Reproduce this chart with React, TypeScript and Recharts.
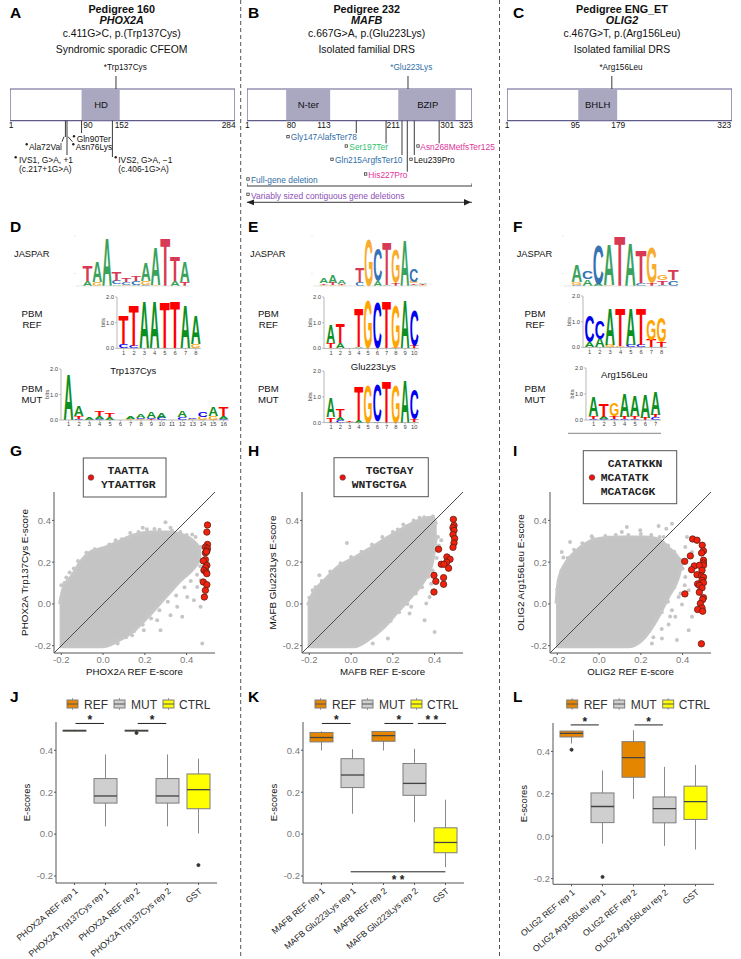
import {
  Area,
  Bar,
  BarChart,
  ComposedChart,
  Line,
  ReferenceArea,
  ReferenceDot,
  ReferenceLine,
  Scatter,
  XAxis,
  YAxis,
} from "recharts";

const FONT = "'Liberation Sans', Arial, sans-serif";
const MONO = "'Liberation Mono', monospace";

// ---- protein schematics (x = residue position as drawn on the bar)
const phox2aDomains = [{ name: "HD", start: 91, end: 139 }];
const mafbDomains = [
  { name: "N-ter", start: 57, end: 120 },
  { name: "BZIP", start: 217.5, end: 299.6 },
];
const olig2Domains = [{ name: "BHLH", start: 103, end: 158.7 }];
// [x1, depth1, x2, depth2]
const phox2aLines = [
  [70.7, 44.7, 70.7, 61],
  [72.7, 44.7, 72.7, 79],
  [91, 44.7, 91, 57],
  [129.8, 44.7, 129.8, 81],
  [134.3, 0, 134.3, 13],
  [68.9, 60.7, 66.4, 65.7],
  [74, 60.7, 79.5, 65.7],
];
const mafbLines = [
  [157.4, 44.7, 157.4, 57],
  [200, 44.7, 200, 67.3],
  [222.8, 44.7, 222.8, 79],
  [230.4, 44.7, 230.4, 95.7],
  [240.4, 44.7, 240.4, 79],
  [276, 44.7, 276, 67.3],
  [231.4, 0, 231.4, 13],
  [1, 110, 323, 110],
  [1, 107.3, 1, 110],
  [323, 107.3, 323, 110],
  [1, 126.3, 323, 126.3],
];
const olig2Lines = [[151, 0, 151, 13]];

// ---- sequence logos, each position bottom -> top [letter, bits]
type Col = [string, number][];
const logoDJaspar: Col[] = [
  [["A", 0.4], ["T", 1.25]],
  [["G", 0.35], ["A", 1.65]],
  [["A", 3.9]],
  [["A", 0.13], ["C", 0.3], ["T", 0.75]],
  [["G", 0.1], ["C", 0.2], ["T", 0.3]],
  [["A", 0.1], ["C", 0.3], ["T", 0.4]],
  [["C", 0.1], ["G", 0.3], ["A", 1.5]],
  [["G", 0.1], ["A", 3.05]],
  [["T", 3.9]],
  [["A", 0.4], ["T", 2]],
  [["T", 0.35], ["A", 1.65]],
];
const logoDRef: Col[] = [
  [["C", 0.17], ["T", 1.1]],
  [["C", 0.1], ["T", 1.6]],
  [["A", 1.85]],
  [["A", 1.85]],
  [["T", 1.8]],
  [["T", 1.82]],
  [["A", 1.68]],
  [["G", 0.17], ["A", 1.1]],
];
const logoDMut: Col[] = [
  [["A", 1.82]],
  [["C", 0.05], ["T", 0.12], ["A", 0.4]],
  [["A", 0.12]],
  [["C", 0.05], ["A", 0.1], ["T", 0.2]],
  [["A", 0.1], ["T", 0.13]],
  [],
  [["G", 0.02], ["A", 0.1]],
  [["G", 0.02], ["C", 0.05], ["A", 0.13]],
  [["T", 0.02], ["C", 0.05], ["A", 0.25]],
  [["C", 0.08], ["A", 0.18]],
  [],
  [["C", 0.1], ["A", 0.25]],
  [["G", 0.02], ["C", 0.03]],
  [["G", 0.13], ["C", 0.2]],
  [["G", 0.17], ["A", 0.35]],
  [["C", 0.03], ["A", 0.12], ["T", 0.35]],
];
const logoEJaspar: Col[] = [
  [["G", 0.1], ["T", 0.1], ["A", 0.4]],
  [["G", 0.1], ["T", 0.15], ["A", 0.6]],
  [["G", 0.08], ["T", 0.1], ["A", 0.33]],
  [["A", 0.02]],
  [["C", 0.35], ["T", 1.1]],
  [["G", 3.8]],
  [["A", 0.4], ["C", 2.6]],
  [["A", 0.05], ["T", 3.45]],
  [["T", 0.25], ["G", 2.7]],
  [["A", 3.65]],
  [["A", 0.1], ["T", 0.1], ["G", 0.15], ["C", 1.0]],
  [["G", 0.08], ["T", 0.1], ["A", 0.1]],
];
const logoERef: Col[] = [
  [["T", 0.22], ["A", 0.72]],
  [["A", 0.2], ["T", 0.77]],
  [],
  [["A", 0.05], ["T", 1.56]],
  [["G", 1.87]],
  [["C", 1.77]],
  [["T", 1.85]],
  [["T", 0.03], ["G", 1.7]],
  [["A", 1.87]],
  [["T", 0.1], ["C", 1.4]],
];
const logoEMut: Col[] = [
  [["T", 0.22], ["A", 0.74]],
  [["C", 0.1], ["A", 0.1], ["T", 0.3]],
  [["A", 0.02], ["T", 0.03]],
  [["A", 0.1], ["T", 1.32]],
  [["G", 1.5]],
  [["A", 0.05], ["C", 1.45]],
  [["T", 1.65]],
  [["G", 1.5]],
  [["A", 1.7]],
  [["G", 0.02], ["T", 0.1], ["C", 1.15]],
];
const logoFJaspar: Col[] = [
  [["C", 0.1], ["G", 0.25], ["A", 1.35]],
  [["A", 0.55], ["C", 0.6]],
  [["A", 0.15], ["C", 3.2]],
  [["G", 0.1], ["A", 3.25]],
  [["T", 3.95]],
  [["A", 3.5]],
  [["C", 0.25], ["T", 2.6]],
  [["T", 0.2], ["G", 2.8]],
  [["C", 0.1], ["T", 0.35], ["G", 0.4]],
  [["C", 0.45], ["T", 0.85]],
];
const logoFRef: Col[] = [
  [["A", 0.2], ["C", 1.03]],
  [["A", 0.33], ["C", 0.7]],
  [["G", 0.1], ["A", 1.45]],
  [["G", 0.07], ["T", 1.5]],
  [["C", 0.1], ["A", 1.43]],
  [["C", 0.1], ["T", 1.43]],
  [["T", 0.28], ["G", 0.82]],
  [["T", 0.2], ["G", 0.97]],
];
const logoFMut: Col[] = [
  [["C", 0.05], ["T", 0.1], ["A", 0.74]],
  [["C", 0.03], ["A", 0.1], ["T", 0.5]],
  [["C", 0.05], ["T", 0.1], ["G", 0.48]],
  [["C", 0.05], ["T", 0.08], ["A", 0.9]],
  [["C", 0.05], ["T", 0.1], ["A", 0.8]],
  [["T", 0.08], ["A", 0.92]],
  [["C", 0.1], ["T", 0.08], ["A", 0.9]],
];

// ---- scatter panels: [x, low, high] outline of the grey cloud
const cloudG = [
  [-0.208, -0.205, -0.0], [-0.19, -0.205, 0.08], [-0.15, -0.205, 0.135], [-0.11, -0.205, 0.2],
  [-0.06, -0.205, 0.25], [0, -0.205, 0.268], [0.067, -0.18, 0.296], [0.147, -0.13, 0.33],
  [0.227, -0.05, 0.345], [0.307, 0.04, 0.345], [0.37, 0.11, 0.335], [0.435, 0.17, 0.3], [0.47, 0.22, 0.26],
];
const cloudH = [
  [-0.208, -0.205, -0.006], [-0.184, -0.205, 0.05], [-0.128, -0.205, 0.113], [-0.064, -0.205, 0.177],
  [0.016, -0.205, 0.222], [0.08, -0.174, 0.26], [0.16, -0.11, 0.31], [0.224, -0.038, 0.348],
  [0.288, 0.033, 0.385], [0.352, 0.113, 0.41], [0.39, 0.2, 0.415], [0.41, 0.33, 0.38],
];
const cloudI = [
  [-0.206, -0.205, 0.002], [-0.195, -0.205, 0.113], [-0.163, -0.205, 0.193], [-0.115, -0.205, 0.249],
  [-0.051, -0.205, 0.297], [0, -0.205, 0.313], [0.093, -0.205, 0.32], [0.141, -0.205, 0.32],
  [0.221, -0.158, 0.32], [0.285, -0.062, 0.31], [0.333, 0.033, 0.27], [0.381, 0.129, 0.22], [0.397, 0.193, 0.193],
];
const straysG = [
  [-0.2, 0.089], [-0.176, 0.126], [-0.09, 0.188], [0.016, 0.254], [0.118, 0.313], [0.19, 0.365], [0.246, 0.359],
  [0.299, 0.391], [0.323, 0.365], [0.427, 0.333], [0.443, 0.321], [0.467, 0.273], [0.475, -0.19], [0.467, -0.014],
  [0.435, 0.018], [0.379, -0.062], [0.323, -0.054], [0.275, -0.126], [0.195, -0.126], [0.139, -0.15], [0.067, -0.166],
  [0.467, 0.113], [0.451, 0.081], [0.403, 0.033], [0.355, -0.014], [0.259, -0.078],
  [-0.2, 0.03], [-0.185, 0.1], [-0.16, 0.15], [-0.14, 0.17], [-0.12, 0.205], [-0.08, 0.245], [-0.04, 0.262], [0.03, 0.285],
  [0.06, 0.305], [0.09, 0.31], [0.13, 0.34], [0.17, 0.345], [0.21, 0.358], [0.27, 0.355], [0.33, 0.35], [0.37, 0.345],
  [0.4, 0.33], [0.445, 0.285], [0.46, 0.24], [0.465, 0.18], [0.45, 0.14], [0.42, 0.11], [0.39, 0.08], [0.35, 0.04],
  [0.31, 0.01], [0.27, -0.03], [0.23, -0.07], [0.19, -0.1], [0.15, -0.13], [0.11, -0.16], [0.07, -0.19],
];
const straysH = [
  [-0.02, 0.292], [-0.152, 0.137], [-0.184, 0.065], [0.224, 0.357], [0.328, 0.413], [0.392, 0.419], [0.4, -0.134],
  [0.352, -0.078], [0.28, -0.046], [0.288, -0.014], [0.176, -0.166], [0.104, -0.19], [0.048, -0.19], [0.24, 0.002],
  [0.376, 0.033], [0.384, 0.097], [0.368, 0.209], [0.416, 0.32], [0.432, 0.305], [0.36, 0.002],
  [-0.2, 0.03], [-0.17, 0.08], [-0.14, 0.11], [-0.1, 0.155], [-0.05, 0.195], [0, 0.225], [0.05, 0.25], [0.1, 0.285],
  [0.15, 0.32], [0.2, 0.345], [0.25, 0.38], [0.3, 0.4], [0.35, 0.415], [0.05, -0.185], [0.1, -0.155], [0.14, -0.12],
  [0.19, -0.08], [0.23, -0.04], [0.27, 0], [0.31, 0.05], [0.34, 0.08], [0.37, 0.13], [0.39, 0.16], [0.41, 0.22], [0.42, 0.28],
];
const straysI = [
  [-0.179, 0.249], [-0.171, 0.222], [-0.139, 0.297], [-0.035, 0.324], [0.109, 0.345], [0.133, 0.368], [0.197, 0.353],
  [0.285, 0.373], [0.322, 0.36], [0.349, 0.384], [0.309, 0.32], [0.421, 0.32], [0.413, 0.273], [0.445, 0.249],
  [0.365, 0.193], [0.413, 0.129], [0.429, 0.065], [0.381, 0.033], [0.397, -0.003], [0.365, -0.062], [0.445, -0.062],
  [0.373, -0.173], [0.301, -0.166], [0.253, -0.19], [0.333, -0.099], [0.429, -0.126], [0.349, -0.03],
  [-0.2, 0.07], [-0.18, 0.16], [-0.15, 0.22], [-0.12, 0.26], [-0.08, 0.29], [-0.03, 0.315], [0.03, 0.325], [0.08, 0.33],
  [0.14, 0.33], [0.2, 0.335], [0.25, 0.33], [0.29, 0.32], [0.33, 0.28], [0.36, 0.25], [0.39, 0.21], [0.16, -0.195],
  [0.2, -0.17], [0.24, -0.13], [0.27, -0.08], [0.3, -0.04], [0.33, 0.01], [0.36, 0.08], [0.38, 0.14], [0.4, 0.17],
  [0.41, 0.09], [0.39, 0.05], [0.34, -0.06], [0.3, -0.12], [0.26, -0.16],
];
const redG = [
  [0.5, 0.378], [0.497, 0.344], [0.5, 0.285], [0.49, 0.272], [0.5, 0.265], [0.497, 0.254], [0.49, 0.245], [0.495, 0.25],
  [0.49, 0.212], [0.48, 0.206], [0.497, 0.185], [0.49, 0.174], [0.483, 0.161], [0.493, 0.153], [0.497, 0.145],
  [0.48, 0.105], [0.497, 0.092], [0.49, 0.065], [0.485, 0.033],
];
const redH = [
  [0.49, 0.405], [0.493, 0.376], [0.488, 0.365], [0.493, 0.352], [0.488, 0.332], [0.496, 0.313], [0.493, 0.292],
  [0.488, 0.271], [0.419, 0.262], [0.459, 0.225], [0.474, 0.214], [0.458, 0.2], [0.432, 0.19], [0.445, 0.19],
  [0.467, 0.171], [0.397, 0.137], [0.443, 0.126], [0.406, 0.108], [0.443, 0.094], [0.397, 0.057],
];
const redI = [
  [0.448, 0.311], [0.469, 0.305], [0.494, 0.281], [0.5, 0.254], [0.491, 0.244], [0.437, 0.23], [0.41, 0.204], [0.5, 0.209],
  [0.5, 0.196], [0.5, 0.185], [0.456, 0.182], [0.48, 0.185], [0.443, 0.164], [0.493, 0.161], [0.469, 0.14], [0.49, 0.134],
  [0.5, 0.128], [0.493, 0.113], [0.5, 0.102], [0.472, 0.096], [0.48, 0.089], [0.493, 0.077], [0.48, 0.056], [0.411, 0.048],
  [0.5, 0.03], [0.496, 0.021], [0.485, 0.002], [0.493, -0.019], [0.472, -0.027], [0.496, -0.035], [0.49, -0.191],
];

// ---- box plots
const boxJ = [
  { name: "PHOX2A REF rep 1", kind: "REF", lo: 0.489, q1: 0.491, med: 0.494, q3: 0.496, hi: 0.498, out: null },
  { name: "PHOX2A Trp137Cys rep 1", kind: "MUT", lo: 0.037, q1: 0.148, med: 0.182, q3: 0.265, hi: 0.38, out: null },
  { name: "PHOX2A REF rep 2", kind: "REF", lo: 0.489, q1: 0.491, med: 0.494, q3: 0.496, hi: 0.498, out: 0.483 },
  { name: "PHOX2A Trp137Cys rep 2", kind: "MUT", lo: 0.037, q1: 0.148, med: 0.182, q3: 0.265, hi: 0.38, out: null },
  { name: "GST", kind: "CTRL", lo: 0.003, q1: 0.121, med: 0.212, q3: 0.287, hi: 0.36, out: -0.148 },
];
const boxK = [
  { name: "MAFB REF rep 1", kind: "REF", lo: 0.399, q1: 0.44, med: 0.461, q3: 0.485, hi: 0.491, out: null },
  { name: "MAFB Glu223Lys rep 1", kind: "MUT", lo: 0.097, q1: 0.222, med: 0.282, q3: 0.36, hi: 0.405, out: null },
  { name: "MAFB REF rep 2", kind: "REF", lo: 0.399, q1: 0.443, med: 0.47, q3: 0.49, hi: 0.491, out: null },
  { name: "MAFB Glu223Lys rep 2", kind: "MUT", lo: 0.057, q1: 0.185, med: 0.242, q3: 0.337, hi: 0.407, out: null },
  { name: "GST", kind: "CTRL", lo: -0.158, q1: -0.089, med: -0.04, q3: 0.03, hi: 0.164, out: null },
];
const boxL = [
  { name: "OLIG2 REF rep 1", kind: "REF", lo: 0.437, q1: 0.468, med: 0.485, q3: 0.496, hi: 0.498, out: 0.408 },
  { name: "OLIG2 Arg156Leu rep 1", kind: "MUT", lo: -0.035, q1: 0.064, med: 0.14, q3: 0.204, hi: 0.31, out: -0.192 },
  { name: "OLIG2 REF rep 2", kind: "REF", lo: 0.176, q1: 0.278, med: 0.371, q3: 0.446, hi: 0.5, out: null },
  { name: "OLIG2 Arg156Leu rep 2", kind: "MUT", lo: -0.046, q1: 0.063, med: 0.13, q3: 0.185, hi: 0.327, out: null },
  { name: "GST", kind: "CTRL", lo: -0.063, q1: 0.079, med: 0.163, q3: 0.236, hi: 0.336, out: null },
];
// [from, to, y, stars] in category numbers
const sigJ = [[1.03, 1.95, 0.528, "*"], [3.04, 3.96, 0.528, "*"]];
const sigK = [[1.01, 1.94, 0.528, "*"], [3.03, 3.96, 0.528, "*"], [4.11, 5.02, 0.528, "* *"], [1.94, 5, -0.18, "* *"]];
const sigL = [[0.97, 1.88, 0.525, "*"], [3.03, 3.95, 0.525, "*"]];

const scoreTicks = [-0.2, 0, 0.2, 0.4];
const boxFill: Record<string, string> = { REF: "#e58600", MUT: "#cfcfcf", CTRL: "#ffff00" };
const pbmColors: Record<string, string> = { A: "#0b8f1f", C: "#0000f0", G: "#ffa500", T: "#ff0000" };
const jasparColors: Record<string, string> = { A: "#2f9e55", C: "#2c6cb0", G: "#f7a823", T: "#d62f4b" };
const glyphAdvance: Record<string, number> = { A: 72.2, C: 72.2, G: 77.8, T: 61.1 };

function Protein({ left, len, domains, lines }: any) {
  const rows = [{ x: 1, y: 0 }, { x: len, y: 132 }];
  return (
    <div style={{ position: "absolute", left, top: 76 }}>
      <ComposedChart width={225} height={132} data={rows} margin={{ top: 0, right: 0, bottom: 0, left: 0 }}>
        <XAxis dataKey="x" type="number" domain={[1, len]} allowDataOverflow hide />
        <YAxis type="number" domain={[0, 132]} reversed allowDataOverflow hide />
        <Line dataKey="y" stroke="none" dot={false} isAnimationActive={false} />
        <ReferenceArea x1={1} x2={len} y1={13} y2={44.7} fill="#fff" stroke="#5f5c8c" strokeWidth={1.2} fillOpacity={1} />
        {domains.map((d: any) => (
          <ReferenceArea key={d.name} x1={d.start} x2={d.end} y1={13.4} y2={44.3} fill="#aaa7c1" fillOpacity={1} stroke="none" />
        ))}
        {lines.map((l: number[], i: number) => (
          <ReferenceLine
            key={i}
            segment={[{ x: l[0], y: l[1] }, { x: l[2], y: l[3] }]}
            stroke="#3a3a3a"
            strokeWidth={1}
          />
        ))}
      </ComposedChart>
    </div>
  );
}

const JasparTick = (p: any) =>
  p.payload.value === 2 ? (
    <text x={p.x - 1} y={p.y + 1.5} textAnchor="end" fontSize={4} fill="#aaa">2</text>
  ) : (
    <g />
  );

function Logo({ x0, y0, unit, step, first, cols, jaspar }: any) {
  const max = jaspar ? 4 : 2;
  const gutter = 28;
  const colors = jaspar ? jasparColors : pbmColors;
  const rows = cols.map((c: Col, i: number) => {
    const r: any = { pos: String(i + 1) };
    c.forEach((e, k) => {
      r[`l${k}`] = e[0];
      r[`h${k}`] = e[1];
    });
    return r;
  });
  const pad = first - step / 2;
  const makeLetter = (rank: number) => (p: any) => {
    const ch = p.payload[`l${rank}`];
    if (!ch || !p.height || p.height <= 0) return <g />;
    return (
      <text
        transform={`translate(${p.x},${p.y + p.height}) scale(${p.width / glyphAdvance[ch]},${p.height / 71})`}
        fontFamily={FONT}
        fontWeight={700}
        fontSize={100}
        fill={colors[ch]}
        opacity={jaspar ? 0.95 : 1}
      >
        {ch}
      </text>
    );
  };
  const height = 4 + max * unit + 13;
  const axisCol = jaspar ? "#d8d8d8" : "#999";
  return (
    <div style={{ position: "absolute", left: x0 - gutter, top: y0 - max * unit - 4 }}>
      <BarChart
        width={gutter + first + step * (cols.length - 0.5) + 4}
        height={height}
        data={rows}
        barCategoryGap={0}
        margin={{ top: 4, right: 4, bottom: 0, left: 0 }}
      >
        <XAxis
          dataKey="pos"
          interval={0}
          height={13}
          padding={{ left: pad, right: 0 }}
          tick={jaspar ? false : { fontSize: 5.8, fill: "#444" }}
          tickSize={2}
          tickMargin={0}
          axisLine={{ stroke: axisCol, strokeWidth: 0.7 }}
          tickLine={{ stroke: axisCol, strokeWidth: 0.6 }}
        />
        <YAxis
          width={gutter}
          domain={[0, max]}
          ticks={jaspar ? [0, 1, 2, 3, 4] : [0, 1, 2]}
          tickFormatter={(v: number) => v.toFixed(1)}
          tick={jaspar ? JasparTick : { fontSize: 5.8, fill: "#444" }}
          tickSize={2}
          tickMargin={1}
          axisLine={jaspar ? false : { stroke: axisCol, strokeWidth: 0.7 }}
          tickLine={{ stroke: axisCol, strokeWidth: 0.6 }}
          label={
            jaspar
              ? undefined
              : { value: "bits", angle: -90, position: "insideLeft", offset: 14, style: { fontSize: 6, fill: "#444", textAnchor: "middle" } }
          }
        />
        {[0, 1, 2, 3].map((k) => (
          <Bar key={k} dataKey={`h${k}`} stackId="s" isAnimationActive={false} shape={makeLetter(k)} />
        ))}
      </BarChart>
    </div>
  );
}

const RedDot = (p: any) => <circle cx={p.cx} cy={p.cy} r={3.2} fill="#f2200c" stroke="#5b2216" strokeWidth={0.8} />;
const GreyDot = (p: any) => <circle cx={p.cx} cy={p.cy} r={2} fill="#c6c6c6" />;

function ScorePlot({ left, cloud, strays, red, xTitle, yTitle }: any) {
  const band = cloud.map((c: number[]) => ({ x: c[0], band: [c[1], c[2]] }));
  const toPts = (a: number[][]) => a.map((p) => ({ x: p[0], y: p[1] }));
  const dom = [-0.235, 0.536];
  return (
    <div style={{ position: "absolute", left: left - 45, top: 488.7 }}>
      <ComposedChart width={210} height={199} data={band} margin={{ top: 3, right: 4, bottom: 0, left: 0 }}>
        <XAxis
          dataKey="x"
          type="number"
          domain={dom}
          ticks={scoreTicks}
          allowDataOverflow
          height={35}
          tickFormatter={(v: number) => v.toFixed(1)}
          tick={{ fill: "#7a7a7a", fontSize: 9.5 }}
          tickSize={2}
          tickMargin={1}
          axisLine={{ stroke: "#555" }}
          tickLine={{ stroke: "#555" }}
          label={{ value: xTitle, position: "insideBottom", offset: 13, style: { fontSize: 9.7, fill: "#111" } }}
        />
        <YAxis
          dataKey="y"
          type="number"
          width={45}
          domain={dom}
          ticks={scoreTicks}
          allowDataOverflow
          tickFormatter={(v: number) => v.toFixed(1)}
          tick={{ fill: "#7a7a7a", fontSize: 9.5 }}
          tickSize={2}
          tickMargin={1}
          axisLine={{ stroke: "#555" }}
          tickLine={{ stroke: "#555" }}
          label={{ value: yTitle, angle: -90, position: "insideLeft", offset: 15, style: { fontSize: 9.9, fill: "#111", textAnchor: "middle" } }}
        />
        <Area dataKey="band" type="monotone" stroke="#c6c6c6" strokeWidth={3} fill="#c4c4c4" fillOpacity={1} dot={false} isAnimationActive={false} />
        <Scatter data={toPts(strays)} dataKey="y" shape={GreyDot} isAnimationActive={false} />
        <ReferenceLine segment={[{ x: dom[0], y: dom[0] }, { x: dom[1], y: dom[1] }]} stroke="#4a4a4a" strokeWidth={1} />
        <Scatter data={toPts(red)} dataKey="y" shape={RedDot} isAnimationActive={false} />
      </ComposedChart>
    </div>
  );
}

const BoxShape = (p: any) => {
  const d = p.payload;
  const per = p.height / (d.hi - d.lo);
  const at = (v: number) => p.y + (d.hi - v) * per;
  const cx = p.x + p.width / 2;
  return (
    <g>
      <line x1={cx} x2={cx} y1={at(d.hi)} y2={at(d.lo)} stroke="#8a8a8a" strokeWidth={1} />
      <rect
        x={p.x}
        y={at(d.q3)}
        width={p.width}
        height={at(d.q1) - at(d.q3)}
        fill={boxFill[d.kind]}
        stroke="#7d7d7d"
        strokeWidth={1}
      />
      <line x1={p.x} x2={p.x + p.width} y1={at(d.med)} y2={at(d.med)} stroke="#444" strokeWidth={1.3} />
    </g>
  );
};

const AngledTick = (p: any) => (
  <text
    transform={`translate(${p.x + 4},${p.y + 5}) rotate(-40)`}
    textAnchor="end"
    fontFamily={FONT}
    fontSize={8.7}
    fill="#222"
  >
    {p.payload.value}
  </text>
);

const StarLabel = (text: string, below: boolean) => (p: any) => (
  <text
    x={p.viewBox.x + (p.viewBox.width || 0) / 2}
    y={p.viewBox.y + (below ? 12 : 1)}
    textAnchor="middle"
    fontFamily={FONT}
    fontSize={12}
    fontWeight={700}
    fill="#222"
  >
    {text}
  </text>
);

function BoxPlot({ left, top, plotH, dom, rows, sig }: any) {
  const table = rows.map((r: any, i: number) => ({ ...r, ord: i + 1 }));
  return (
    <div style={{ position: "absolute", left: left - 45, top: top - 12 }}>
      <ComposedChart width={210} height={12 + plotH + 76} data={table} margin={{ top: 12, right: 4, bottom: 0, left: 0 }}>
        <XAxis
          dataKey="name"
          interval={0}
          height={76}
          padding={{ left: 3, right: 3 }}
          tick={AngledTick}
          tickSize={2}
          axisLine={{ stroke: "#555" }}
          tickLine={{ stroke: "#555" }}
        />
        <XAxis xAxisId="n" dataKey="ord" type="number" domain={[0.4, 5.6]} allowDataOverflow hide />
        <YAxis
          type="number"
          width={45}
          domain={dom}
          ticks={scoreTicks}
          allowDataOverflow
          tickFormatter={(v: number) => v.toFixed(1)}
          tick={{ fill: "#7a7a7a", fontSize: 9.5 }}
          tickSize={2}
          tickMargin={1}
          axisLine={{ stroke: "#555" }}
          tickLine={{ stroke: "#555" }}
          label={{ value: "E-scores", angle: -90, position: "insideLeft", offset: 16, style: { fontSize: 9.5, fill: "#111", textAnchor: "middle" } }}
        />
        <Bar dataKey={(d: any) => [d.lo, d.hi]} barSize={23} shape={BoxShape} isAnimationActive={false} />
        <Line xAxisId="n" dataKey="out" stroke="none" dot={{ r: 1.5, fill: "#333", stroke: "#333" }} connectNulls={false} isAnimationActive={false} />
        {sig.map((s: any[], i: number) => (
          <ReferenceLine
            key={i}
            xAxisId="n"
            segment={[{ x: s[0], y: s[2] }, { x: s[1], y: s[2] }]}
            stroke="#222"
            strokeWidth={1}
          />
        ))}
        {sig.map((s: any[], i: number) => (
          <ReferenceDot
            key={`star${i}`}
            xAxisId="n"
            x={(s[0] + s[1]) / 2}
            y={s[2]}
            r={0}
            stroke="none"
            label={StarLabel(s[3], s[2] < 0)}
          />
        ))}
      </ComposedChart>
    </div>
  );
}

function T({ x, y, s = 8.4, a = "start", c = "#111", b, i, m, children }: any) {
  return (
    <text
      x={x}
      y={y}
      fontSize={s}
      textAnchor={a}
      fill={c}
      fontWeight={b ? 700 : 400}
      fontStyle={i ? "italic" : "normal"}
      fontFamily={m ? MONO : FONT}
    >
      {children}
    </text>
  );
}

const Sq = ({ x, y }: any) => <rect x={x - 1.2} y={y - 1.2} width={2.4} height={2.4} fill="#fff" stroke="#222" strokeWidth={0.7} />;
const Dt = ({ x, y }: any) => <circle cx={x} cy={y} r={1.2} fill="#222" />;

function Header({ cx, lines }: any) {
  return (
    <g>
      <T x={cx} y={12.7} s={10.8} a="middle" b>{lines[0]}</T>
      <T x={cx} y={24.3} s={10.8} a="middle" b i>{lines[1]}</T>
      <T x={cx} y={36.7} s={10.4} a="middle">{lines[2]}</T>
      <T x={cx} y={53.3} s={10.4} a="middle">{lines[3]}</T>
    </g>
  );
}

function KeyBox({ x, y, w, h, dotX, text }: any) {
  return (
    <g>
      <rect x={x} y={y} width={w} height={h} fill="none" stroke="#555" strokeWidth={1} />
      <circle cx={dotX} cy={477.5} r={2.8} fill="#f2100c" stroke="#444" strokeWidth={0.6} />
      {text.map((t: any) => (
        <T key={t[0]} x={t[1]} y={t[2]} s={11.4} b m c="#222">{t[0]}</T>
      ))}
    </g>
  );
}

function BoxKey({ dx }: any) {
  const icons = [["REF", 67, 84], ["MUT", 114, 131], ["CTRL", 163, 179]] as [string, number, number][];
  return (
    <g>
      {icons.map(([k, ix, tx]) => (
        <g key={k}>
          <line x1={ix + dx + 5.5} x2={ix + dx + 5.5} y1={698} y2={710} stroke="#888" strokeWidth={0.8} />
          <rect x={ix + dx} y={700} width={11} height={8} fill={boxFill[k]} stroke="#7d7d7d" strokeWidth={1} />
          <line x1={ix + dx} x2={ix + dx + 11} y1={704} y2={704} stroke="#555" strokeWidth={1} />
          <T x={tx + dx} y={708.5} s={12} c="#333">{k}</T>
        </g>
      ))}
    </g>
  );
}

function Notes() {
  const blue = "#2f6ea8";
  const green = "#2fc46f";
  const pink = "#e0349c";
  const purple = "#8e4fb5";
  return (
    <svg width={741} height={959} style={{ position: "absolute", left: 0, top: 0, pointerEvents: "none" }}>
      <line x1={240.7} x2={240.7} y1={0} y2={959} stroke="#555" strokeDasharray="4 3" strokeWidth={1} />
      <line x1={499.5} x2={499.5} y1={0} y2={959} stroke="#555" strokeDasharray="4 3" strokeWidth={1} />

      <T x={10} y={18} s={15.5} b c="#000">A</T>
      <T x={248} y={18} s={15.5} b c="#000">B</T>
      <T x={513} y={18} s={15.5} b c="#000">C</T>
      <T x={10} y={232} s={15.5} b c="#000">D</T>
      <T x={248} y={232} s={15.5} b c="#000">E</T>
      <T x={513} y={232} s={15.5} b c="#000">F</T>
      <T x={10} y={456} s={15.5} b c="#000">G</T>
      <T x={248} y={456} s={15.5} b c="#000">H</T>
      <T x={513} y={456} s={15.5} b c="#000">I</T>
      <T x={10} y={702} s={15.5} b c="#000">J</T>
      <T x={248} y={702} s={15.5} b c="#000">K</T>
      <T x={513} y={702} s={15.5} b c="#000">L</T>

      <Header cx={121.7} lines={["Pedigree 160", "PHOX2A", "c.411G>C, p.(Trp137Cys)", "Syndromic sporadic CFEOM"]} />
      <Header cx={366.7} lines={["Pedigree 232", "MAFB", "c.667G>A, p.(Glu223Lys)", "Isolated familial DRS"]} />
      <Header cx={622} lines={["Pedigree ENG_ET", "OLIG2", "c.467G>T, p.(Arg156Leu)", "Isolated familial DRS"]} />

      {/* A */}
      <T x={125.3} y={70.3} s={8.2} a="middle">*Trp137Cys</T>
      <T x={101} y={107.5} s={9.5} a="middle">HD</T>
      <T x={11} y={128.3} a="middle">1</T>
      <T x={88} y={128.3} a="middle">90</T>
      <T x={121.7} y={128.3} a="middle">152</T>
      <T x={228.7} y={128.3} a="middle">284</T>
      <Dt x={26.7} y={144.3} /><T x={29} y={149.7}>Ala72Val</T>
      <Dt x={15.7} y={157.3} /><T x={19} y={163.3}>IVS1, G&gt;A, +1</T>
      <T x={19} y={171.7}>(c.217+1G&gt;A)</T>
      <Dt x={74} y={136.3} /><T x={76.7} y={142.3}>Gln90Ter</T>
      <Dt x={73.3} y={144.3} /><T x={75.7} y={149.7}>Asn76Lys</T>
      <Dt x={115.7} y={157.3} /><T x={118.3} y={163.3}>IVS2, G&gt;A, −1</T>
      <T x={118.3} y={171.7}>(c.406-1G&gt;A)</T>

      {/* B */}
      <T x={411.3} y={70.3} s={8.2} a="middle" c={blue}>*Glu223Lys</T>
      <T x={308.3} y={107.5} s={9.5} a="middle">N-ter</T>
      <T x={427.7} y={107.5} s={9.5} a="middle">BZIP</T>
      <T x={247.3} y={128.3} a="middle">1</T>
      <T x={291.3} y={128.3} a="middle">80</T>
      <T x={324} y={128.3} a="middle">113</T>
      <T x={393.3} y={128.3} a="middle">211</T>
      <T x={447.3} y={128.3} a="middle">301</T>
      <T x={466} y={128.3} a="middle">323</T>
      <Sq x={288} y={136.7} /><T x={290.7} y={140.3} c={blue}>Gly147AlafsTer78</T>
      <Sq x={346.3} y={146} /><T x={349.3} y={150} c={green}>Ser197Ter</T>
      <Sq x={418} y={146} /><T x={420.3} y={150} c={pink}>Asn268MetfsTer125</T>
      <Sq x={332} y={159.3} /><T x={335} y={163.3} c={blue}>Gln215ArgfsTer10</T>
      <Sq x={411} y={159.3} /><T x={413.7} y={163.3}>Leu239Pro</T>
      <Sq x={365.7} y={174} /><T x={368.3} y={178.3} c={pink}>His227Pro</T>
      <Sq x={248} y={179} /><T x={251} y={182.7} c={blue}>Full-gene deletion</T>
      <Sq x={248} y={194.3} /><T x={251} y={199} s={8.5} c={purple}>Variably sized contiguous gene deletions</T>
      <polygon points="246.7,202.3 254,199.4 254,205.2" fill="#222" />
      <polygon points="471,202.3 464,199 464,205.6" fill="#222" />

      {/* C */}
      <T x={621} y={70.3} s={8.2} a="middle">*Arg156Leu</T>
      <T x={597.7} y={107.5} s={9.5} a="middle">BHLH</T>
      <T x={507} y={128.3} a="middle">1</T>
      <T x={575.3} y={128.3} a="middle">95</T>
      <T x={618.3} y={128.3} a="middle">179</T>
      <T x={724.3} y={128.3} a="middle">323</T>

      {/* logo side labels */}
      <T x={14} y={256.7} s={9.3}>JASPAR</T>
      <T x={32} y={316.7} s={9.6} a="middle">PBM</T>
      <T x={32} y={327.5} s={9.6} a="middle">REF</T>
      <T x={32} y={392.3} s={9.6} a="middle">PBM</T>
      <T x={32} y={402.9} s={9.6} a="middle">MUT</T>
      <T x={133.3} y={374.3} s={9.5} a="middle">Trp137Cys</T>

      <T x={250} y={256.7} s={9.3}>JASPAR</T>
      <T x={268.3} y={316.7} s={9.6} a="middle">PBM</T>
      <T x={268.3} y={327.5} s={9.6} a="middle">REF</T>
      <T x={268.3} y={391.7} s={9.6} a="middle">PBM</T>
      <T x={268.3} y={402.7} s={9.6} a="middle">MUT</T>
      <T x={373.3} y={370} s={9.5} a="middle">Glu223Lys</T>

      <T x={516.7} y={256.7} s={9.3}>JASPAR</T>
      <T x={535} y={316.7} s={9.6} a="middle">PBM</T>
      <T x={535} y={327.5} s={9.6} a="middle">REF</T>
      <T x={535} y={391.7} s={9.6} a="middle">PBM</T>
      <T x={535} y={402.7} s={9.6} a="middle">MUT</T>
      <T x={624.3} y={378.3} s={9.5} a="middle">Arg156Leu</T>
      <line x1={568} x2={661} y1={433.3} y2={433.3} stroke="#666" strokeWidth={0.8} />

      <KeyBox x={83.3} y={458} w={82.7} h={39} dotX={91} text={[["TAATTA", 107.5, 474], ["YTAATTGR", 101, 487.7]]} />
      <KeyBox x={334} y={457.7} w={94.3} h={39} dotX={342.7} text={[["TGCTGAY", 365.7, 474], ["WNTGCTGA", 351.7, 487.5]]} />
      <KeyBox x={583.3} y={450.7} w={93.4} h={53} dotX={592} text={[["CATATKKN", 607.7, 466.5], ["MCATATK", 600.7, 480.5], ["MCATACGK", 600.7, 494.5]]} />

      <BoxKey dx={0} />
      <BoxKey dx={248} />
      <BoxKey dx={499.7} />
    </svg>
  );
}

export default function App() {
  return (
    <div
      style={{
        position: "absolute",
        left: 0,
        top: 0,
        width: 741,
        height: 959,
        background: "#fff",
        overflow: "hidden",
        fontFamily: FONT,
      }}
    >
      <Protein left={10.3} len={284} domains={phox2aDomains} lines={phox2aLines} />
      <Protein left={246.7} len={323} domains={mafbDomains} lines={mafbLines} />
      <Protein left={506.7} len={323} domains={olig2Domains} lines={olig2Lines} />

      <Logo x0={76} y0={285.7} unit={12.5} step={9.73} first={11.3} cols={logoDJaspar} jaspar />
      <Logo x0={117.3} y0={348} unit={25.7} step={10.3} first={6.7} cols={logoDRef} />
      <Logo x0={61} y0={419.7} unit={25.5} step={10.33} first={7.7} cols={logoDMut} />

      <Logo x0={313.3} y0={285.7} unit={12.5} step={9} first={10.7} cols={logoEJaspar} jaspar />
      <Logo x0={324.3} y0={348} unit={25.7} step={9.26} first={7} cols={logoERef} />
      <Logo x0={324.3} y0={423} unit={25.8} step={9.26} first={7} cols={logoEMut} />

      <Logo x0={564} y0={285.7} unit={12.5} step={10.7} first={12.7} cols={logoFJaspar} jaspar />
      <Logo x0={582.7} y0={347.7} unit={25.7} step={10.3} first={6.6} cols={logoFRef} />
      <Logo x0={586.3} y0={420.3} unit={26} step={10.33} first={7.7} cols={logoFMut} />

      <ScorePlot left={53.5} cloud={cloudG} strays={straysG} red={redG} xTitle="PHOX2A REF E-score" yTitle="PHOX2A Trp137Cys E-score" />
      <ScorePlot left={302.3} cloud={cloudH} strays={straysH} red={redH} xTitle="MAFB REF E-score" yTitle="MAFB Glu223Lys E-score" />
      <ScorePlot left={550} cloud={cloudI} strays={straysI} red={redI} xTitle="OLIG2 REF E-score" yTitle="OLIG2 Arg156Leu E-score" />

      <BoxPlot left={55.7} top={721.7} plotH={161} dom={[-0.2334, 0.535]} rows={boxJ} sig={sigJ} />
      <BoxPlot left={303.3} top={721.7} plotH={161} dom={[-0.2334, 0.535]} rows={boxK} sig={sigK} />
      <BoxPlot left={553.3} top={722.7} plotH={161.3} dom={[-0.227, 0.534]} rows={boxL} sig={sigL} />

      <Notes />
    </div>
  );
}
